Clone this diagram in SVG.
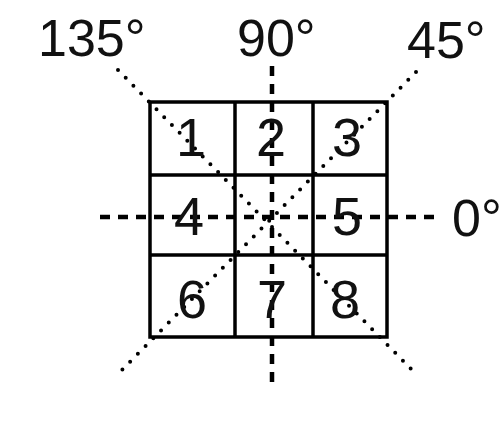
<svg xmlns="http://www.w3.org/2000/svg" width="504" height="423" viewBox="0 0 504 423">
<style>
.lbl{font-family:"Liberation Sans",Arial,sans-serif;font-size:52px;fill:#111;}
.num{font-family:"Liberation Sans",Arial,sans-serif;font-size:54px;fill:#111;text-anchor:middle;}
.grid{stroke:#000;stroke-width:3.5;fill:none;}
.dash{stroke:#000;stroke-width:4.5;stroke-dasharray:10 8;fill:none;}
.dot{stroke:#000;stroke-width:4;stroke-dasharray:0 11;stroke-linecap:round;fill:none;}
</style>
<rect width="504" height="423" fill="#fff"/>
<g id="connectors">
<line class="dash" x1="100" y1="217" x2="440" y2="217"/>
<line class="dash" x1="272" y1="66" x2="272" y2="385"/>
<line class="dot" x1="118" y1="70" x2="418" y2="376"/>
<line class="dot" x1="416" y1="72" x2="118" y2="374"/>
</g>
<g id="grid">
<rect class="grid" x="150" y="102" width="237" height="235"/>
<line class="grid" x1="235" y1="102" x2="235" y2="337"/>
<line class="grid" x1="313" y1="102" x2="313" y2="337"/>
<line class="grid" x1="150" y1="175" x2="387" y2="175"/>
<line class="grid" x1="150" y1="255" x2="387" y2="255"/>
</g>
<g id="cell1"><text class="num" x="191" y="156">1</text></g>
<g id="cell2"><text class="num" x="271" y="156">2</text></g>
<g id="cell3"><text class="num" x="347" y="156">3</text></g>
<g id="cell4"><text class="num" x="189" y="235">4</text></g>
<g id="cell5"><text class="num" x="347" y="235">5</text></g>
<g id="cell6"><text class="num" x="192" y="318">6</text></g>
<g id="cell7"><text class="num" x="272" y="318">7</text></g>
<g id="cell8"><text class="num" x="345" y="318">8</text></g>
<g id="label135"><text class="lbl" x="38" y="56">135°</text></g>
<g id="label90"><text class="lbl" x="237" y="56">90°</text></g>
<g id="label45"><text class="lbl" x="407" y="58">45°</text></g>
<g id="label0"><text class="lbl" x="452" y="236">0°</text></g>
</svg>
